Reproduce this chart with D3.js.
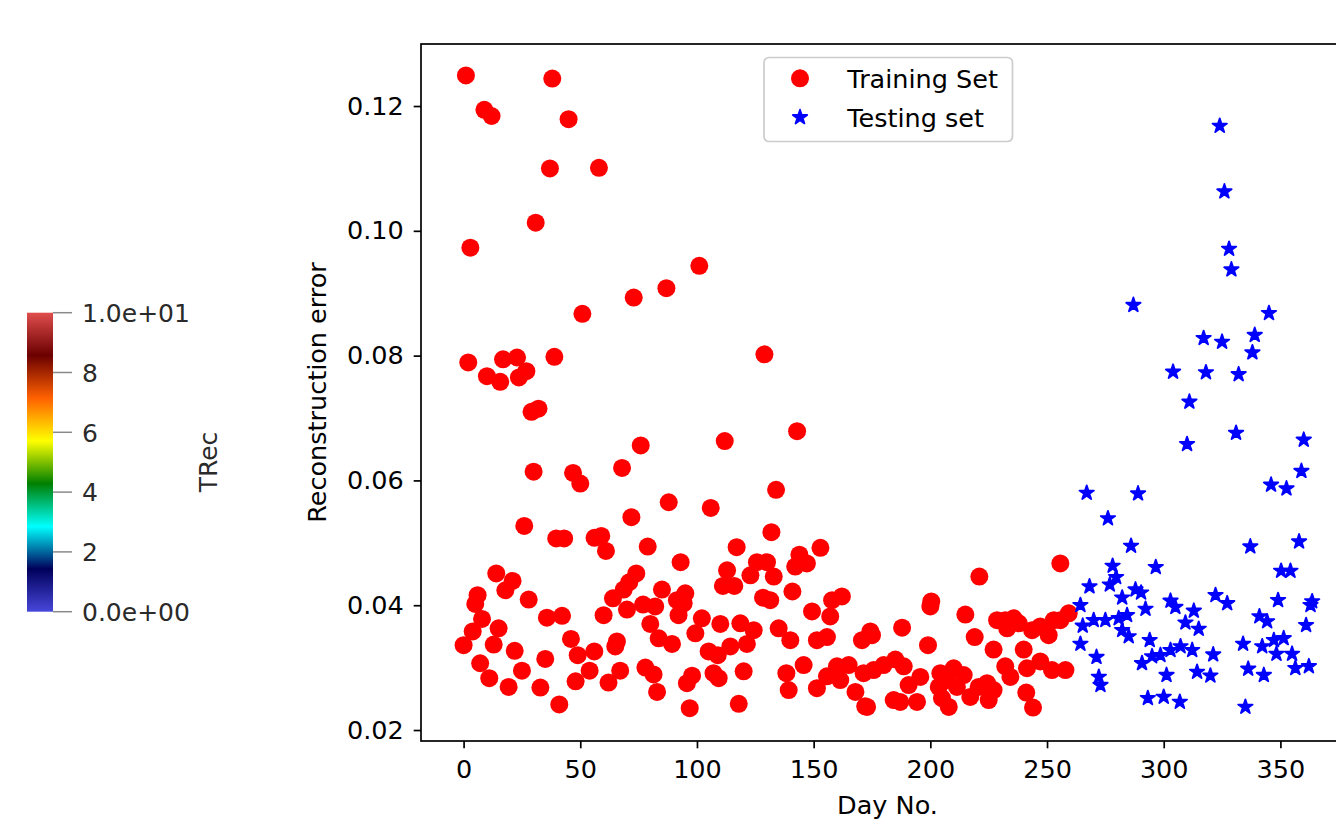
<!DOCTYPE html>
<html>
<head>
<meta charset="utf-8">
<script src="https://cdn.jsdelivr.net/npm/d3@7/dist/d3.min.js"></script>
<style>
  body { margin: 0; background: #fff; overflow: hidden; }
  text { font-family: "DejaVu Sans", sans-serif; }
</style>
</head>
<body>
<svg id="grafico"></svg>
<script>
// [day, reconstruction error]
const trainingSet = [
  [1.0,0.1249],[8.9,0.1194],[12.0,0.1184],[38.0,0.1244],[45.0,0.1179],[2.9,0.0973],[37.0,0.1100],
  [58.0,0.1101],[30.9,0.1013],[101.0,0.0944],[86.9,0.0908],[72.9,0.0893],[50.9,0.0867],
  [2.0,0.0789],[16.9,0.0794],[22.9,0.0797],[10.0,0.0767],[15.7,0.0758],[26.9,0.0775],[23.7,0.0765],
  [38.9,0.0798],[128.9,0.0802],[29.1,0.0710],[32.1,0.0715],[142.9,0.0679],[111.9,0.0663],[75.9,0.0656],
  [67.9,0.0620],[30.0,0.0614],[46.9,0.0612],[50.0,0.0595],[133.9,0.0585],
  [87.9,0.0565],[105.9,0.0556],[71.9,0.0541],[26.0,0.0527],[131.9,0.0517],[39.7,0.0507],[43.1,0.0507],
  [56.1,0.0508],[59.0,0.0511],[61.0,0.0487],[78.9,0.0494],[93.0,0.0469],[117.0,0.0493],[152.9,0.0492],
  [143.9,0.0481],[147.1,0.0467],[142.1,0.0462],[125.7,0.0469],[130.0,0.0469],[132.9,0.0446],[122.9,0.0448],
  [112.9,0.0456],[14.0,0.0451],[21.0,0.0439],[74.0,0.0451],[71.0,0.0437],
  [17.9,0.0424],[27.9,0.0409],[6.0,0.0416],[5.0,0.0402],[7.9,0.0378],[3.9,0.0358],[0.0,0.0336],
  [15.0,0.0363],[12.9,0.0337],[7.1,0.0307],[11.0,0.0283],[19.3,0.0269],[21.9,0.0327],[25.0,0.0295],
  [35.7,0.0380],[42.2,0.0383],[35.0,0.0314],[32.9,0.0268],[41.0,0.0241],[46.0,0.0346],[48.9,0.0320],
  [56.0,0.0326],[54.0,0.0295],[48.0,0.0278],[60.0,0.0384],[64.0,0.0411],[68.6,0.0425],[70.0,0.0393],
  [76.9,0.0401],[65.7,0.0342],[65.0,0.0334],[62.1,0.0276],[67.1,0.0295],[80.0,0.0370],[77.9,0.0300],
  [111.1,0.0431],[116.0,0.0431],[128.3,0.0412],[131.4,0.0408],[140.9,0.0422],[85.0,0.0425],[95.0,0.0419],
  [91.4,0.0408],[94.3,0.0403],[92.1,0.0384],[82.1,0.0398],[83.6,0.0347],[89.3,0.0338],[102.1,0.0379],
  [99.3,0.0355],[110.0,0.0370],[118.6,0.0371],[124.3,0.0360],[114.3,0.0334],[121.4,0.0338],[105.0,0.0326],
  [108.9,0.0320],[135.0,0.0363],[140.0,0.0344],[149.3,0.0390],[157.1,0.0382],[157.9,0.0408],[162.1,0.0414],
  [151.4,0.0344],[155.7,0.0349],[170.7,0.0344],[174.3,0.0358],[81.4,0.0289],[82.9,0.0261],[97.9,0.0287],
  [95.7,0.0275],[96.9,0.0235],[107.1,0.0291],[109.3,0.0283],[120.0,0.0294],[117.9,0.0242],[138.3,0.0291],
  [139.3,0.0264],[145.7,0.0304],[151.4,0.0267],[155.7,0.0286],[160.0,0.0302],[165.0,0.0304],[161.4,0.0280],
  [167.9,0.0261],[171.4,0.0291],[172.1,0.0238],
  [255.7,0.0467],[221.0,0.0446],[200.4,0.0406],[200.0,0.0398],[215.0,0.0385],[187.9,0.0364],[175.0,0.0352],
  [199.0,0.0336],[219.0,0.0349],[227.1,0.0329],[228.6,0.0376],[232.1,0.0376],[235.7,0.0379],[237.9,0.0371],
  [232.9,0.0363],[240.0,0.0329],[243.6,0.0360],[247.1,0.0366],[250.7,0.0352],[252.9,0.0376],[255.7,0.0376],
  [259.3,0.0387],[185.0,0.0313],[188.6,0.0302],[175.7,0.0296],[180.0,0.0304],[195.7,0.0285],[204.3,0.0291],
  [210.0,0.0299],[214.3,0.0288],[207.1,0.0280],[203.6,0.0269],[211.4,0.0269],[190.7,0.0272],[220.7,0.0269],
  [224.3,0.0275],[227.1,0.0264],[232.1,0.0302],[234.3,0.0285],[241.4,0.0299],[247.1,0.0310],[252.1,0.0296],
  [257.9,0.0296],[172.9,0.0237],[184.3,0.0248],[187.1,0.0245],[194.3,0.0245],[205.0,0.0251],[207.9,0.0237],
  [217.1,0.0253],[225.0,0.0248],[241.1,0.0260],[244.0,0.0236]
];

const testingSet = [
  [324.0,0.1168],[326.0,0.1063],[328.0,0.0971],[329.0,0.0938],[287.0,0.0881],[345.1,0.0868],
  [317.1,0.0828],[325.0,0.0822],[339.0,0.0833],[338.0,0.0805],[304.0,0.0774],[318.1,0.0773],[332.1,0.0770],
  [311.0,0.0726],[331.0,0.0676],[310.0,0.0658],[360.0,0.0665],[359.0,0.0615],[346.0,0.0593],[352.6,0.0587],
  [267.0,0.0580],[289.0,0.0579],[276.1,0.0539],[286.0,0.0495],[358.0,0.0502],[337.1,0.0494],[278.1,0.0463],
  [296.6,0.0461],[350.3,0.0455],[354.3,0.0455],
  [279.6,0.0445],[276.9,0.0433],[268.2,0.0430],[282.2,0.0412],[287.9,0.0425],[290.3,0.0420],[292.2,0.0394],
  [302.9,0.0407],[305.0,0.0397],[312.9,0.0391],[309.3,0.0372],[315.0,0.0362],[322.2,0.0416],[327.2,0.0403],
  [349.0,0.0408],[363.6,0.0406],[362.9,0.0400],[341.0,0.0382],[344.3,0.0374],[361.0,0.0368],[264.3,0.0400],
  [265.3,0.0367],[270.0,0.0376],[275.0,0.0376],[280.7,0.0379],[284.3,0.0384],[282.2,0.0360],[285.0,0.0350],
  [294.0,0.0344],[264.3,0.0338],[302.9,0.0328],[307.2,0.0334],[312.2,0.0328],[298.6,0.0320],[295.0,0.0318],
  [290.7,0.0307],[321.2,0.0321],[334.0,0.0338],[342.2,0.0334],[347.2,0.0344],[351.4,0.0347],[348.3,0.0322],
  [355.0,0.0322],[356.4,0.0299],[362.2,0.0302],[271.2,0.0317],[272.2,0.0285],[272.9,0.0272],[301.2,0.0288],
  [314.3,0.0293],[320.0,0.0287],[336.2,0.0298],[342.9,0.0288],[293.2,0.0251],[300.0,0.0253],[306.9,0.0245],
  [335.0,0.0237]
];

const xTicks = [0, 50, 100, 150, 200, 250, 300, 350];
const yTicks = [0.02, 0.04, 0.06, 0.08, 0.10, 0.12];
const legendLabels = ["Training Set", "Testing set"];

// colorbar (ParaView "Rainbow Desaturated")
const cbValues = [0, 2, 4, 6, 8, 10];
const cbLabels = ["0.0e+00", "2", "4", "6", "8", "1.0e+01"];
const cbStops = [0, 0.143, 0.285, 0.429, 0.571, 0.714, 0.857, 1];
const cbColors = ["#4747db", "#00005b", "#00ffff", "#008000", "#ffff00", "#ff6100", "#6b0000", "#e04d4d"];

const WIDTH = 1336, HEIGHT = 828;
const FUENTE = 25.5;

const margins = { top: 44, bottom: 87, left: 421, right: -22 };

const svg = d3.select("#grafico")
  .attr("width", WIDTH)
  .attr("height", HEIGHT);

const escalaX = d3.scaleLinear()
  .domain([-18.25, 383.25])
  .range([margins.left, WIDTH - margins.right]);

const escalaY = d3.scaleLinear()
  .domain([0.01824, 0.12994])
  .range([HEIGHT - margins.bottom, margins.top]);

// ---- colorbar ----
const cbEscala = d3.scaleLinear().domain([0, 10]).range([611.7, 312.7]);

const grad = svg.append("defs")
  .append("linearGradient")
  .attr("id", "rainbow")
  .attr("x1", 0).attr("y1", 1).attr("x2", 0).attr("y2", 0);

grad.selectAll("stop")
  .data(cbStops)
  .join("stop")
  .attr("offset", d => d)
  .attr("stop-color", (d, i) => cbColors[i]);

const barra = svg.append("g");

barra.append("rect")
  .attr("x", 27)
  .attr("y", cbEscala(10))
  .attr("width", 26)
  .attr("height", cbEscala(0) - cbEscala(10))
  .attr("fill", "url(#rainbow)");

barra.selectAll("line")
  .data(cbValues)
  .join("line")
  .attr("x1", 53).attr("x2", 72)
  .attr("y1", d => cbEscala(d))
  .attr("y2", d => cbEscala(d))
  .attr("stroke", "#8a8a8a")
  .attr("stroke-width", 1.5);

barra.selectAll("text")
  .data(cbValues)
  .join("text")
  .attr("x", 82)
  .attr("y", d => cbEscala(d) + 9.2)
  .attr("font-size", 25)
  .attr("fill", "#2a2a2a")
  .text((d, i) => cbLabels[i]);

barra.append("text")
  .attr("transform", "translate(217 462) rotate(-90)")
  .attr("text-anchor", "middle")
  .attr("font-size", 25)
  .attr("fill", "#2a2a2a")
  .text("TRec");

// ---- axes ----
const ejeX = d3.axisBottom(escalaX)
  .tickValues(xTicks)
  .tickSize(7.3)
  .tickPadding(11.5)
  .tickFormat(d3.format("d"));

const ejeY = d3.axisLeft(escalaY)
  .tickValues(yTicks)
  .tickSize(7.3)
  .tickPadding(10)
  .tickFormat(d3.format(".2f"));

const contenedorEjeX = svg.append("g")
  .attr("transform", `translate(0 ${HEIGHT - margins.bottom})`)
  .call(ejeX);

const contenedorEjeY = svg.append("g")
  .attr("transform", `translate(${margins.left} 0)`)
  .call(ejeY);

[contenedorEjeX, contenedorEjeY].forEach(eje => {
  eje.select(".domain").remove();
  eje.selectAll(".tick line").attr("stroke", "#000").attr("stroke-width", 1.7);
  eje.selectAll(".tick text")
    .attr("fill", "#000")
    .attr("font-size", FUENTE)
    .attr("font-family", "DejaVu Sans");
});

// spines
svg.append("rect")
  .attr("x", escalaX.range()[0])
  .attr("y", escalaY.range()[1])
  .attr("width", escalaX.range()[1] - escalaX.range()[0])
  .attr("height", escalaY.range()[0] - escalaY.range()[1])
  .attr("fill", "none")
  .attr("stroke", "#000")
  .attr("stroke-width", 1.7);

svg.append("text")
  .attr("x", (escalaX.range()[0] + escalaX.range()[1]) / 2 - 2)
  .attr("y", 814)
  .attr("text-anchor", "middle")
  .attr("font-size", FUENTE)
  .text("Day No.");

svg.append("text")
  .attr("transform", `translate(326 ${(escalaY.range()[0] + escalaY.range()[1]) / 2}) rotate(-90)`)
  .attr("text-anchor", "middle")
  .attr("font-size", FUENTE)
  .text("Reconstruction error");

// ---- points ----
const estrella = d3.symbol().type(d3.symbolStar).size(7.6 * 7.6 / 0.8908130915292852);

svg.append("g")
  .selectAll("circle")
  .data(trainingSet)
  .join("circle")
  .attr("cx", d => escalaX(d[0]))
  .attr("cy", d => escalaY(d[1]))
  .attr("r", 9)
  .attr("fill", "#ff0000");

svg.append("g")
  .selectAll("path")
  .data(testingSet)
  .join("path")
  .attr("transform", d => `translate(${escalaX(d[0])} ${escalaY(d[1])})`)
  .attr("d", estrella)
  .attr("fill", "#0000ff")
  .attr("stroke", "#0000ff")
  .attr("stroke-width", 1.8)
  .attr("stroke-linejoin", "round");

// ---- legend ----
const leyenda = svg.append("g");

leyenda.append("rect")
  .attr("x", 764).attr("y", 57.5)
  .attr("width", 248.5).attr("height", 84)
  .attr("rx", 5)
  .attr("fill", "#fff")
  .attr("fill-opacity", 0.8)
  .attr("stroke", "#cccccc")
  .attr("stroke-width", 1.7);

leyenda.append("circle")
  .attr("cx", 800).attr("cy", 78.3)
  .attr("r", 9)
  .attr("fill", "#ff0000");

leyenda.append("path")
  .attr("transform", "translate(800 117.3)")
  .attr("d", estrella)
  .attr("fill", "#0000ff")
  .attr("stroke", "#0000ff")
  .attr("stroke-width", 1.8)
  .attr("stroke-linejoin", "round");

leyenda.selectAll("text")
  .data(legendLabels)
  .join("text")
  .attr("x", 847.3)
  .attr("y", (d, i) => 78.3 + i * 39 + 9.2)
  .attr("font-size", FUENTE)
  .text(d => d);
</script>
</body>
</html>
